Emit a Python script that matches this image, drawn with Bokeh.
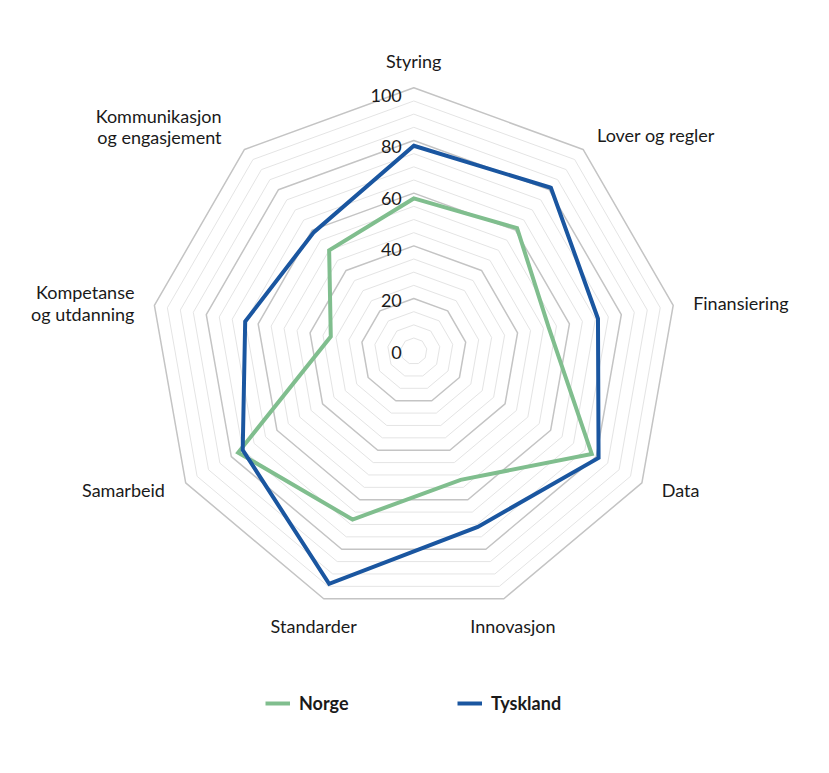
import numpy as np
from bokeh.plotting import figure
from bokeh.models import Range1d, Legend, LegendItem
from bokeh.core.properties import value
from bokeh.embed import file_html
from bokeh.resources import INLINE

# ---- data ----
categories = ["Styring", "Lover og regler", "Finansiering", "Data", "Innovasjon",
              "Standarder", "Samarbeid", "Kompetanse\nog utdanning",
              "Kommunikasjon\nog engasjement"]
norge = [58, 61, 52, 78, 52, 68, 77, 32, 50]
tyskland = [78, 81, 71, 81, 71, 94, 75, 65, 59]
tick_values = [0, 20, 40, 60, 80, 100]
tick_labels = ["0", "20", "40", "60", "80", "100"]
grid_step = 5
max_value = 100

# ---- layout / style ----
W, H = 813, 757
scale = 2.634            # px per unit
cx, cy = 413.3, 350.7    # centre in canvas px
FONT = "Lato"
FS = "18px"
TXT = "#1a1a1a"
GREEN = "#80be8e"
BLUE = "#1a56a0"
label_dx = [0, -3, -6, -3, 0, -1, 2, 6, -6]     # px nudges of category labels
label_dy = [0, 6, 2, -6, 3, 3, -6, 2, -3]

n = len(categories)
theta = np.arange(n) * 2 * np.pi / n

p = figure(width=W, height=H, output_backend="svg", toolbar_location=None,
           x_range=Range1d(-cx / scale, (W - cx) / scale),
           y_range=Range1d(-(H - cy) / scale, cy / scale),
           min_border=0, min_border_left=0, min_border_right=0,
           min_border_top=0, min_border_bottom=0)
p.axis.visible = False
p.grid.visible = False
p.outline_line_color = None
p.background_fill_color = "white"
p.border_fill_color = "white"


def ring(r):
    return list(r * np.sin(theta)), list(r * np.cos(theta))


minor_x, minor_y, major_x, major_y = [], [], [], []
for v in range(grid_step, max_value + 1, grid_step):
    xs, ys = ring(v)
    if v % 20 == 0:
        major_x.append(xs); major_y.append(ys)
    else:
        minor_x.append(xs); minor_y.append(ys)

p.patches(minor_x, minor_y, fill_color=None, line_color="#e4e4e4", line_width=1)
p.patches(major_x, major_y, fill_color=None, line_color="#c4c4c4", line_width=1.5)


def series_path(vals):
    vals = np.asarray(vals, dtype=float)
    xs = list(vals * np.sin(theta))
    ys = list(vals * np.cos(theta))
    return xs + xs[:2], ys + ys[:2]


nx, ny = series_path(norge)
tx, ty = series_path(tyskland)
r_n = p.line(nx, ny, line_color=GREEN, line_width=4, line_join="miter")
r_t = p.line(tx, ty, line_color=BLUE, line_width=4, line_join="miter")

# tick labels
p.text(x=[0] * len(tick_values), y=[v * 0.975 for v in tick_values], text=tick_labels,
       text_font=value(FONT), text_font_size=FS, text_color=TXT,
       text_align="right", text_baseline="middle", x_offset=-12, y_offset=1)

# category labels
lab_r = 110
for i in range(n):
    s = np.sin(theta[i])
    c = np.cos(theta[i])
    if abs(s) < 0.4:
        al = "center"
    elif s > 0:
        al = "left"
    else:
        al = "right"
    p.text(x=[lab_r * s], y=[lab_r * c], text=[categories[i]],
           text_font=value(FONT), text_font_size=FS, text_color=TXT,
           text_align=al, text_baseline="middle", text_line_height=0.97,
           x_offset=label_dx[i], y_offset=label_dy[i])

# legends
leg_common = dict(orientation="horizontal", glyph_width=25, glyph_height=20,
                  label_standoff=9, label_text_font=FONT, label_text_font_size=FS,
                  label_text_font_style="bold", label_text_color=TXT,
                  border_line_color=None, background_fill_alpha=0,
                  padding=0, margin=0, spacing=0)
leg1 = Legend(items=[LegendItem(label="Norge", renderers=[r_n])], location=(265, 43), **leg_common)
leg2 = Legend(items=[LegendItem(label="Tyskland", renderers=[r_t])], location=(457, 43), **leg_common)
p.add_layout(leg1, "center")
p.add_layout(leg2, "center")

open("out.html", "w").write(file_html(p, INLINE))
